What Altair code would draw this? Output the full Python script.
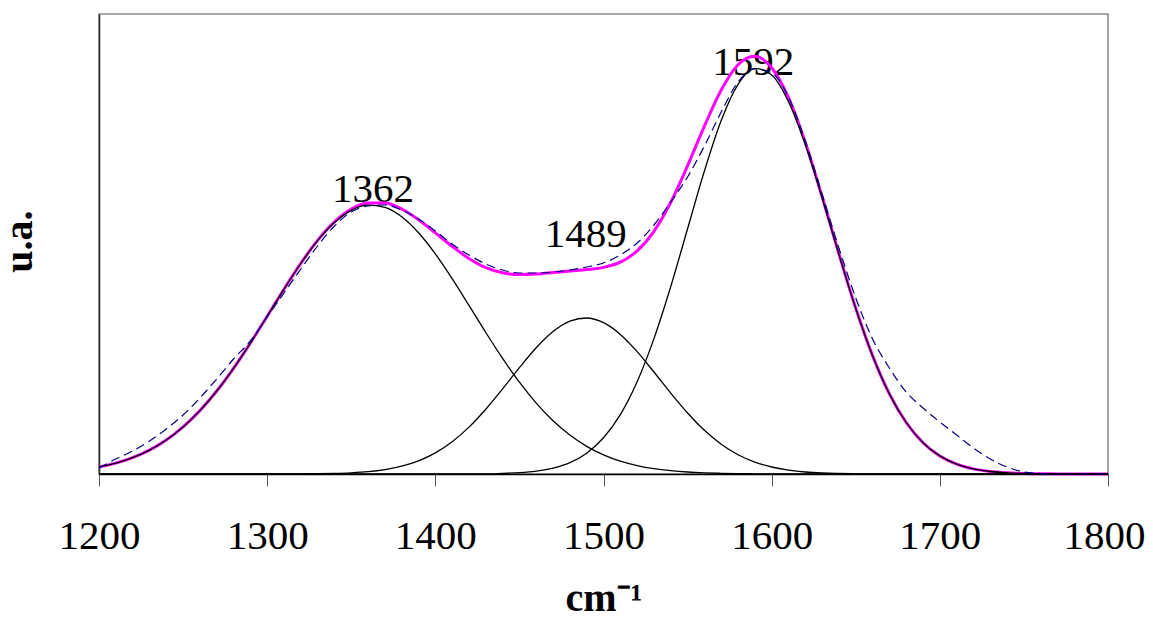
import altair as alt
import pandas as pd

# Raman shift grid (cm-1)
wavenumber = [1200, 1210, 1220, 1230, 1240, 1250, 1260, 1270, 1280, 1290,
              1300, 1310, 1320, 1330, 1340, 1350, 1360, 1370, 1380, 1390,
              1400, 1410, 1420, 1430, 1440, 1450, 1460, 1470, 1480, 1490,
              1500, 1510, 1520, 1530, 1540, 1550, 1560, 1570, 1580, 1590,
              1600, 1610, 1620, 1630, 1640, 1650, 1660, 1670, 1680, 1690,
              1700, 1710, 1720, 1730, 1740, 1750, 1760, 1770, 1780, 1790, 1800]

# fitted component bands (arbitrary units)
band_1362 = [7.0, 10.9, 16.4, 23.9, 34.0, 47.1, 63.4, 83.0, 105.7, 130.9,
             157.7, 184.8, 210.5, 233.3, 251.5, 263.7, 268.8, 266.6, 257.2, 241.2,
             220.1, 195.3, 168.6, 141.5, 115.6, 91.8, 70.9, 53.2, 38.9, 27.6,
             19.1, 12.8, 8.4, 5.3, 3.3, 2.0, 1.2, 0.7, 0.4, 0.2,
             0.1, 0, 0, 0, 0, 0, 0, 0, 0, 0,
             0, 0, 0, 0, 0, 0, 0, 0, 0, 0, 0]

band_1489 = [0, 0, 0, 0, 0, 0, 0, 0, 0, 0,
             0, 0, 0.1, 0.3, 0.6, 1.2, 2.3, 4.4, 7.8, 13.1,
             21.1, 32.3, 46.9, 64.8, 85.1, 106.3, 126.2, 142.4, 152.8, 156.0,
             151.3, 139.6, 122.4, 102.0, 80.9, 61.0, 43.7, 29.8, 19.3, 11.9,
             7.0, 3.9, 2.0, 1.0, 0.5, 0.2, 0.1, 0, 0, 0,
             0, 0, 0, 0, 0, 0, 0, 0, 0, 0, 0]

band_1592 = [0, 0, 0, 0, 0, 0, 0, 0, 0, 0,
             0, 0, 0, 0, 0, 0, 0, 0, 0, 0,
             0, 0, 0, 0, 0.6, 1.3, 2.8, 5.8, 11.3, 20.8,
             36.2, 59.4, 92.3, 135.4, 187.5, 245.3, 303.0, 353.5, 389.6, 405.6,
             399.1, 372.4, 329.4, 276.2, 219.6, 165.5, 118.3, 80.1, 51.5, 31.3,
             18.1, 9.9, 5.1, 2.5, 1.2, 0.5, 0.2, 0.1, 0, 0, 0]

# sum of the fitted bands (magenta)
fit_sum = [7.0, 10.9, 16.4, 23.9, 34.0, 47.1, 63.4, 83.0, 105.7, 130.9,
           157.7, 184.8, 210.6, 233.6, 252.1, 264.9, 271.1, 271.0, 265.0, 254.3,
           241.2, 227.6, 215.5, 206.3, 201.3, 199.4, 199.9, 201.4, 203.0, 204.4,
           206.6, 211.8, 223.1, 242.7, 271.7, 308.3, 347.9, 384.0, 409.3, 417.7,
           406.2, 376.3, 331.4, 277.2, 220.1, 165.7, 118.4, 80.1, 51.5, 31.3,
           18.1, 9.9, 5.1, 2.5, 1.2, 0.5, 0.2, 0.1, 0, 0, 0]

# measured spectrum (dashed)
experimental = [6, 15, 23, 33, 45, 59, 76, 95, 115, 133,
                157, 181, 205, 228, 248, 262, 268, 269, 264, 255,
                243, 230, 219, 210, 204, 201, 201, 202, 204, 207,
                211, 219, 231, 249, 272, 297, 328, 362, 392, 405,
                401, 377, 333, 280, 226, 176, 135, 106, 82, 66,
                52, 39, 26, 15, 7, 2, 0.5, 0, 0, 0, 0]

# peak annotations
peak_labels = ["1362", "1489", "1592"]
peak_label_wn = [1363, 1489.5, 1589]
peak_label_val = [272, 227, 399]

FONT = "Liberation Serif"

df = pd.DataFrame({
    "wn": wavenumber,
    "b1362": band_1362,
    "b1489": band_1489,
    "b1592": band_1592,
    "fit": fit_sum,
    "exp": experimental,
})
long = df.melt("wn", var_name="series", value_name="val")
labels_df = pd.DataFrame({"wn": peak_label_wn, "val": peak_label_val, "label": peak_labels})

x_enc = alt.X(
    "wn:Q",
    scale=alt.Scale(domain=[1200, 1800], nice=False, zero=False),
    axis=alt.Axis(
        values=[1200, 1300, 1400, 1500, 1600, 1700, 1800],
        format="d",
        grid=False,
        labelFont=FONT, labelFontSize=41, labelColor="black",
        labelPadding=30, labelFlush=False, labelOverlap=False,
        labelOffset=alt.ExprRef(expr="datum.value == 1800 ? -4 : 0"),
        tickSize=12, tickColor="#555555", tickWidth=1,
        domainColor="black", domainWidth=1.6,
        title="cm⁻¹", titleFont=FONT, titleFontSize=40, titleFontWeight="bold",
        titleColor="black", titleAlign="center", titleBaseline="alphabetic",
        titleX=504.5, titleY=136,
    ),
)
y_enc = alt.Y(
    "val:Q",
    scale=alt.Scale(domain=[0, 460], nice=False, zero=True),
    axis=alt.Axis(
        labels=False, ticks=False, grid=False,
        domainColor="#333333", domainWidth=1.6,
        title="u.a.", titleFont=FONT, titleFontSize=40, titleFontWeight="bold",
        titleColor="black", titleAngle=270, titleAlign="center",
        titleBaseline="alphabetic", titleX=-68, titleY=227,
    ),
)

text_layer = alt.Chart(labels_df).mark_text(
    font=FONT, fontSize=41, align="center", baseline="alphabetic", color="black"
).encode(x=x_enc, y=y_enc, text="label:N")

fit_layer = alt.Chart(long).transform_filter(
    alt.datum.series == "fit"
).mark_line(color="#FF00FF", strokeWidth=3, interpolate="monotone").encode(
    x=x_enc, y=y_enc
)

bands_layer = alt.Chart(long).transform_filter(
    alt.FieldOneOfPredicate(field="series", oneOf=["b1362", "b1489", "b1592"])
).mark_line(color="black", strokeWidth=1.3, interpolate="monotone").encode(
    x=x_enc, y=y_enc, detail="series:N"
)

exp_layer = alt.Chart(long).transform_filter(
    alt.datum.series == "exp"
).mark_line(color="#000080", strokeWidth=1.2, strokeDash=[9, 5], interpolate="monotone").encode(
    x=x_enc, y=y_enc
)

chart = alt.layer(text_layer, fit_layer, bands_layer, exp_layer).properties(
    width=1009,
    height=460,
    autosize=alt.AutoSizeParams(type="none"),
    padding={"left": 91, "top": 6, "right": 37, "bottom": 144},
    background="white",
).configure_view(
    stroke="#8c8c8c", strokeWidth=1.6
)

chart.save("out.html", embed_options={"renderer": "svg", "actions": False})
